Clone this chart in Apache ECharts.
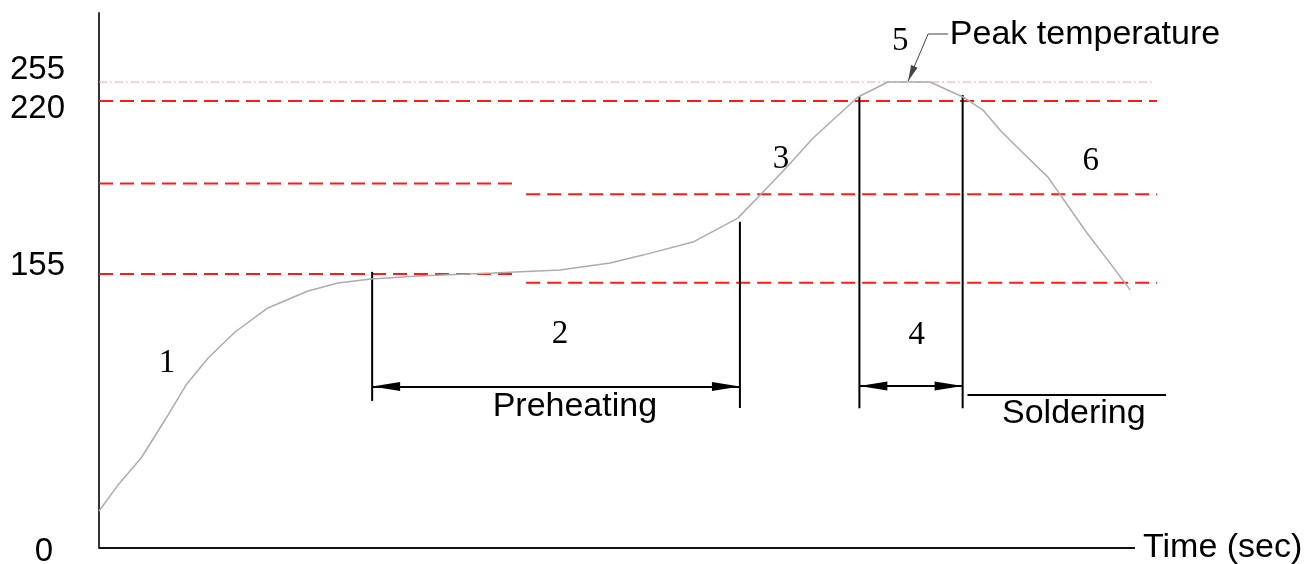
<!DOCTYPE html>
<html><head><meta charset="utf-8">
<script src="https://cdn.jsdelivr.net/npm/echarts@6/dist/echarts.min.js"></script>
<style>html,body{margin:0;padding:0;background:#fff}#c{width:1306px;height:564px}</style>
</head><body><div id="c"></div>
<script>
// ---- Temperature profile: time (s) vs temperature (°C) ----
const timeSec = [0,5.5,12.2,19.1,25.2,31.6,39.4,48.9,60.5,69.2,78.8,92.4,114.1,133.5,148.0,157.5,172.0,185.0,193.4,199.2,206.8,219.8,228.5,240.6,250.2,256.0,260.9,266.7,274.8,286.1,292.8,298.6];
const tempC   = [20.9,35.6,50.9,72.4,92.2,107.5,122.2,135.8,145.4,149.9,152.2,153.9,155.4,156.5,159.1,162.1,167.0,176.0,187.3,195.2,206.1,227.4,255,255,227.4,216.6,209.1,201.6,191.4,170.4,159.1,146.0];

// ---- Axes ----
const timeAxisEnd = 300;          // drawn length of the time axis
const timeRangeMax = 310;         // room for lines running past the axis end
const yTickTemps = [0, 155, 220, 255];
const yTickText  = ['0', '155', '220', '255'];

// schematic (non-linear) temperature scale of the drawing
const scaleTemp  = [0, 155, 220, 255, 300];
const scaleLevel = [0, 274, 447, 466, 535];

// ---- Reference (limit) lines ----
const refTemp  = [255, 220, 189, 155, 185, 150];
const refStart = [0, 0, 0, 0, 123.7, 123.7];
const refEnd   = [305.8, 306.4, 121.0, 121.0, 306.4, 306.4];
const refKind  = ['peak', 'limit', 'limit', 'limit', 'limit', 'limit'];

// ---- Zone boundary markers (vertical) ----
const markTime   = [79.1, 185.6, 220.2, 250.1];
const markTop    = [155.8, 174.6, 227.9, 231.1];
const markBottom = [83.2, 79.2, 79.0, 79.0];

// ---- Dimension arrows: [tStart, tEnd, temp] ----
const spanPreheat = [79.1, 185.6, 91.4];
const spanReflow  = [220.2, 250.1, 91.6];
const solderLine  = [251.5, 309.0, 86.6];

// ---- Peak leader: [t, temp] ----
const leaderBend = [240.1, 286.3];
const leaderTip  = [234.3, 255.6];
const leaderEnd  = [245.9, 286.3];

// ---- Annotations ----
const zoneNums  = ['1', '2', '3', '4', '5', '6'];
const zoneNumT  = [19.7, 133.5, 197.5, 236.8, 232.0, 287.2];
const zoneNumC  = [104.4, 120.8, 198.2, 120.5, 281.5, 197.5];
const words     = ['Preheating', 'Soldering', 'Peak temperature'];
const wordT     = [137.8, 282.3, 246.4];
const wordC     = [80.0, 76.0, 286.0];

const SANS = '"Liberation Sans", Arial, sans-serif';
const SERIF = '"Liberation Serif", "Times New Roman", serif';

function lvl(T) {
  for (let i = 1; i < scaleTemp.length; i++) {
    if (T <= scaleTemp[i] || i === scaleTemp.length - 1) {
      const a = scaleTemp[i - 1], b = scaleTemp[i];
      return scaleLevel[i - 1] + (T - a) * (scaleLevel[i] - scaleLevel[i - 1]) / (b - a);
    }
  }
}
const pt = (t, T) => [t, lvl(T)];

const refStyles = {
  peak:  { color: '#f4a0a0', width: 1, type: [8, 3, 2, 3] },
  limit: { color: '#ff1a1a', width: 2, type: [14, 7] }
};

const series = [];
// time axis line
series.push({
  type: 'line', data: [pt(0, 0), pt(timeAxisEnd, 0)], symbol: 'none',
  lineStyle: { color: '#111', width: 2 }, silent: true, clip: false, z: 6
});
// profile curve
series.push({
  type: 'line', data: timeSec.map((t, i) => pt(t, tempC[i])), symbol: 'none', smooth: false,
  lineStyle: { color: '#acacac', width: 1.5 }, silent: true, clip: false, z: 5
});
// reference lines
refTemp.forEach((T, i) => {
  series.push({
    type: 'line', data: [pt(refStart[i], T), pt(refEnd[i], T)], symbol: 'none',
    lineStyle: refStyles[refKind[i]], silent: true, clip: false, z: 3
  });
});
// vertical markers
markTime.forEach((t, i) => {
  series.push({
    type: 'line', data: [pt(t, markBottom[i]), pt(t, markTop[i])], symbol: 'none',
    lineStyle: { color: '#000', width: 2 }, silent: true, clip: false, z: 4
  });
});
// soldering line
series.push({
  type: 'line', data: [pt(solderLine[0], solderLine[2]), pt(solderLine[1], solderLine[2])], symbol: 'none',
  lineStyle: { color: '#000', width: 2 }, silent: true, clip: false, z: 4
});
// leader horizontal part
series.push({
  type: 'line', data: [pt(leaderBend[0], leaderBend[1]), pt(leaderEnd[0], leaderEnd[1])], symbol: 'none',
  lineStyle: { color: '#444', width: 1 }, silent: true, clip: false, z: 4
});
// double arrows
series.push({
  type: 'line', data: [], clip: false, silent: true,
  markLine: {
    silent: true, animation: false, symbol: ['triangle', 'triangle'], symbolSize: [9, 28],
    symbolOffset: [[0, 14], [0, 14]], label: { show: false }, emphasis: { disabled: true },
    lineStyle: { color: '#000', width: 2, type: 'solid' },
    data: [spanPreheat, spanReflow].map(s => [{ coord: pt(s[0], s[2]) }, { coord: pt(s[1], s[2]) }])
  }
});
// leader arrow
series.push({
  type: 'line', data: [], clip: false, silent: true,
  markLine: {
    silent: true, animation: false, symbol: ['none', 'triangle'], symbolSize: [7, 16],
    symbolOffset: [[0, 0], [0, 8]], label: { show: false }, emphasis: { disabled: true },
    lineStyle: { color: '#444', width: 1, type: 'solid' },
    data: [[{ coord: pt(leaderBend[0], leaderBend[1]) }, { coord: pt(leaderTip[0], leaderTip[1]) }]]
  }
});
// zone numbers
series.push({
  type: 'scatter', silent: true, symbolSize: 0, itemStyle: { color: '#000', opacity: 1 }, clip: false, z: 10,
  data: zoneNums.map((n, i) => ({ name: n, value: pt(zoneNumT[i], zoneNumC[i]) })),
  label: { show: true, position: 'inside', formatter: '{b}', fontFamily: SERIF, fontSize: 33, color: '#000', opacity: 1 }
});
// words
series.push({
  type: 'scatter', silent: true, symbolSize: 0, itemStyle: { color: '#000', opacity: 1 }, clip: false, z: 10,
  data: words.map((w, i) => ({
    name: w, value: pt(wordT[i], wordC[i]),
    label: i === 2 ? { position: 'right', distance: 0 } : undefined
  })),
  label: { show: true, position: 'inside', formatter: '{b}', fontFamily: SANS, fontSize: 34, color: '#000', opacity: 1 }
});

const richBase = { fontFamily: SANS, fontSize: 33, color: '#000' };
const chart = echarts.init(document.getElementById('c'), null, { renderer: 'canvas' });
chart.setOption({
  animation: false,
  backgroundColor: '#fff',
  grid: { left: 99, right: 136.5, top: 13, bottom: 16, containLabel: false, outerBoundsMode: 'none' },
  xAxis: {
    type: 'value', min: 0, max: timeRangeMax,
    axisLine: { show: false }, axisTick: { show: false }, axisLabel: { show: false }, splitLine: { show: false },
    name: 'Time (sec)', nameLocation: 'end', nameGap: -26.5,
    nameTextStyle: { fontFamily: SANS, fontSize: 34, color: '#000', align: 'left', verticalAlign: 'middle', padding: [0, 0, 8, 0] }
  },
  yAxis: {
    type: 'value', min: 0, max: scaleLevel[scaleLevel.length - 1],
    axisLine: { show: true, onZero: false, lineStyle: { color: '#333', width: 2 } },
    axisTick: { show: false }, splitLine: { show: false },
    axisLabel: {
      customValues: yTickTemps.map(lvl), margin: 34, fontFamily: SANS, fontSize: 33, color: '#000',
      formatter: v => {
        const i = yTickTemps.findIndex(T => Math.abs(lvl(T) - v) < 0.01);
        return '{s' + i + '|' + yTickText[i] + '}';
      },
      rich: {
        s0: Object.assign({ padding: [8, 12, 0, 0] }, richBase),
        s1: Object.assign({ padding: [0, 0, 16, 0] }, richBase),
        s2: Object.assign({ padding: [15, 0, 0, 0] }, richBase),
        s3: Object.assign({ padding: [0, 0, 24, 0] }, richBase)
      }
    }
  },
  series: series
});
</script>
</body></html>
